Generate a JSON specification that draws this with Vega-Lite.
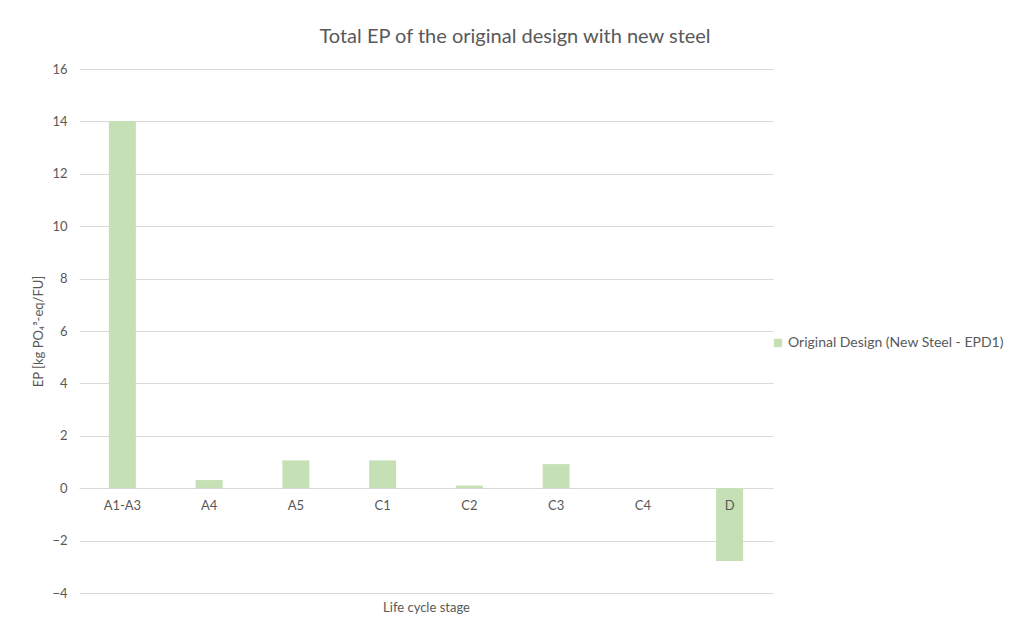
{
  "$schema": "https://vega.github.io/schema/vega-lite/v6.json",
  "autosize": {"type": "none"},
  "padding": {"left": 79, "top": 69, "right": 237, "bottom": 35},
  "width": 694,
  "height": 524,
  "background": "white",
  "config": {
    "font": "Lato",
    "view": {"stroke": null}
  },
  "title": {
    "text": "Total EP of the original design with new steel",
    "fontSize": 20,
    "font": "Lato",
    "fontWeight": "normal",
    "color": "#595959",
    "anchor": "middle",
    "baseline": "alphabetic",
    "offset": 0,
    "dx": 89
  },
  "data": {
    "values": [
      {"stage": "A1-A3", "ep": 14.02, "series": "Original Design (New Steel - EPD1)"},
      {"stage": "A4", "ep": 0.31, "series": "Original Design (New Steel - EPD1)"},
      {"stage": "A5", "ep": 1.06, "series": "Original Design (New Steel - EPD1)"},
      {"stage": "C1", "ep": 1.06, "series": "Original Design (New Steel - EPD1)"},
      {"stage": "C2", "ep": 0.1, "series": "Original Design (New Steel - EPD1)"},
      {"stage": "C3", "ep": 0.92, "series": "Original Design (New Steel - EPD1)"},
      {"stage": "C4", "ep": 0.0, "series": "Original Design (New Steel - EPD1)"},
      {"stage": "D", "ep": -2.78, "series": "Original Design (New Steel - EPD1)"}
    ]
  },
  "mark": {"type": "bar", "size": 27},
  "encoding": {
    "x": {
      "field": "stage",
      "type": "nominal",
      "sort": null,
      "scale": {"paddingInner": 0, "paddingOuter": 0},
      "axis": {
        "title": "Life cycle stage",
        "titleFontSize": 13,
        "titleFontWeight": "normal",
        "titleColor": "#595959",
        "titleY": 118,
        "titleBaseline": "middle",
        "labelAngle": 0,
        "labelFontSize": 13,
        "labelColor": "#595959",
        "labelPadding": 10,
        "offset": -104,
        "domain": false,
        "ticks": false,
        "grid": false,
        "zindex": 1
      }
    },
    "y": {
      "field": "ep",
      "type": "quantitative",
      "scale": {"domain": [-4, 16], "nice": false, "zero": false},
      "axis": {
        "title": "EP [kg PO₄³-eq/FU]",
        "titleFontSize": 13,
        "titleFontWeight": "normal",
        "titleColor": "#595959",
        "titleX": -41,
        "titleBaseline": "middle",
        "values": [-4, -2, 0, 2, 4, 6, 8, 10, 12, 14, 16],
        "labelFontSize": 13,
        "labelColor": "#595959",
        "labelPadding": 12,
        "domain": false,
        "ticks": false,
        "grid": true,
        "gridColor": "#d9d9d9",
        "gridWidth": 1
      }
    },
    "color": {
      "field": "series",
      "type": "nominal",
      "scale": {"range": ["#c5e0b4"]},
      "legend": {
        "title": null,
        "orient": "none",
        "legendX": 692,
        "legendY": 267,
        "symbolType": "square",
        "symbolSize": 70,
        "symbolStrokeWidth": 0,
        "labelFontSize": 14,
        "labelColor": "#595959",
        "labelOffset": 3,
        "labelLimit": 0
      }
    }
  }
}
